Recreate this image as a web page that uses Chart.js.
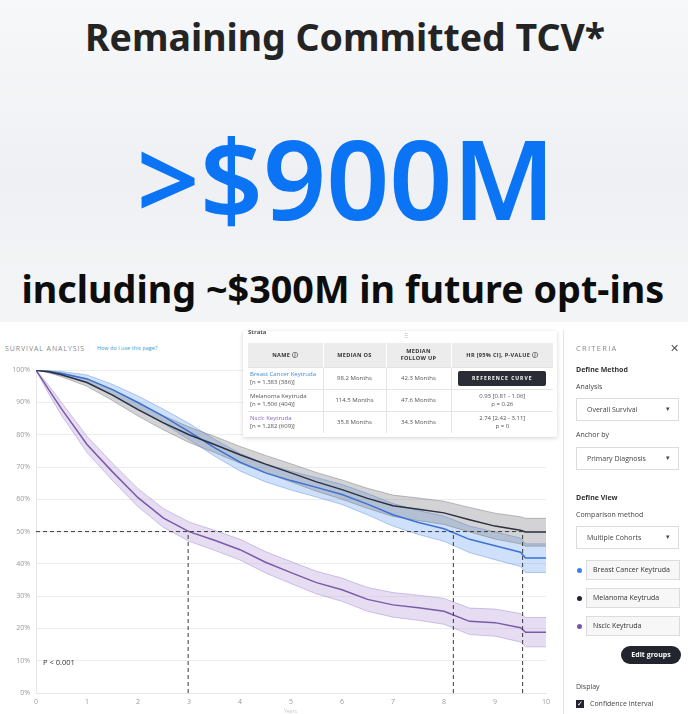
<!DOCTYPE html>
<html><head><meta charset="utf-8">
<script src="https://cdn.jsdelivr.net/npm/chart.js@4.4.1/dist/chart.umd.min.js"></script>
<style>
body{margin:0;width:692px;height:714px;position:relative;background:#fff;overflow:hidden;font-family:"Open Sans",sans-serif;}
#top{position:absolute;left:0;top:0;width:688px;height:322px;background:linear-gradient(180deg,#f7f8fa 0%,#eef0f3 55%,#f4f5f7 100%);}
.hl{position:absolute;white-space:nowrap;line-height:1;font-family:"Noto Sans",sans-serif;}
.abs{position:absolute;white-space:nowrap;}
#chartWrap{position:absolute;left:0;top:360px;width:556px;height:354px;}
#tbl{position:absolute;left:243px;top:331px;width:314px;height:106px;background:#fff;box-shadow:0 1px 4px rgba(0,0,0,0.18);}
#tbl table{position:absolute;left:5px;top:12px;width:305px;border-collapse:collapse;font-size:6px;color:#555;table-layout:fixed;}
#tbl th{background:#ececec;height:24px;padding:0;font-weight:700;font-size:5.6px;letter-spacing:0.3px;color:#333;text-align:center;border-left:1px solid #fff;line-height:1.2;}
#tbl td{height:21px;padding:0;text-align:center;border-top:1px solid #e4e4e4;border-left:1px solid #e4e4e4;line-height:1.25;white-space:nowrap;}
#tbl td:first-child{text-align:left;padding-left:2px;border-left:none;}
.btn{display:inline-block;background:#2a2d36;color:#fff;font-size:5px;font-weight:700;letter-spacing:1px;padding:4px 0;width:88px;text-align:center;border-radius:2px;white-space:nowrap;}
#side{position:absolute;left:563px;top:330px;width:129px;height:384px;border-left:1px solid #e3e3e3;font-size:7px;color:#444;}
.dd{position:absolute;left:12px;width:103px;height:23px;border:1px solid #dcdcdc;background:#fff;font-size:7px;color:#444;box-sizing:border-box;}
.dd span{position:absolute;left:10px;top:6px;}
.dd i{position:absolute;right:8px;top:5px;font-style:normal;font-size:7px;}
.inp{position:absolute;left:22px;width:94px;height:20px;border:1px solid #dcdcdc;background:#f7f7f7;box-sizing:border-box;font-size:7px;color:#333;}
.inp span{position:absolute;left:6px;top:4px;}
.dot{position:absolute;left:13px;width:5px;height:5px;border-radius:50%;}
</style></head>
<body>
<div id="top">
  <div class="hl" id="t1" style="font-weight:700;color:#242424;">Remaining Committed TCV*</div>
  <div class="hl" id="t2" style="font-weight:600;color:#0b74f4;">&gt;$900M</div>
  <div class="hl" id="t3" style="font-weight:700;color:#0d0d0d;">including ~$300M in future opt-ins</div>
</div>

<div class="abs" style="left:5px;top:344px;font-size:7px;letter-spacing:0.9px;color:#8a8a8a;">SURVIVAL ANALYSIS</div>
<div class="abs" style="left:97px;top:344px;font-size:5.5px;color:#3aa0c8;">How do I use this page?</div>

<div id="chartWrap"><canvas id="c" width="556" height="354"></canvas></div>
<div class="abs" style="left:43px;top:657px;font-size:7.5px;color:#333;">P &lt; 0.001</div>
<div class="abs" style="left:284px;top:708px;font-size:5px;color:#c4c4c4;">Years</div>

<div id="tbl">
  <div class="abs" style="left:5px;top:-3px;font-size:6px;font-weight:700;color:#555;">Strata</div>
  <div class="abs" style="left:161px;top:1px;font-size:6px;color:#aaa;">⠿</div>
  <table>
    <colgroup><col style="width:75px"><col style="width:63px"><col style="width:65px"><col style="width:102px"></colgroup>
    <tr><th style="border-left:none">NAME ⓘ</th><th>MEDIAN OS</th><th>MEDIAN<br>FOLLOW UP</th><th>HR [95% CI], P-VALUE ⓘ</th></tr>
    <tr><td><span style="color:#3f8ad6">Breast Cancer Keytruda</span><br>[n = 1,383 (386)]</td><td>98.2 Months</td><td>42.3 Months</td><td><span class="btn">REFERENCE CURVE</span></td></tr>
    <tr><td>Melanoma Keytruda<br>[n = 1,506 (404)]</td><td>114.5 Months</td><td>47.6 Months</td><td>0.93 [0.81 - 1.06]<br>p = 0.26</td></tr>
    <tr><td><span style="color:#8a64b8">Nsclc Keytruda</span><br>[n = 1,282 (609)]</td><td>35.8 Months</td><td>34.3 Months</td><td>2.74 [2.42 - 3.11]<br>p = 0</td></tr>
  </table>
</div>

<div id="side">
  <div class="abs" style="left:12px;top:13px;font-size:7.5px;letter-spacing:1.3px;color:#8a8a8a;">CRITERIA</div>
  <div class="abs" style="left:106px;top:10px;font-size:11px;color:#555;">✕</div>
  <div class="abs" style="left:12px;top:35px;font-weight:700;color:#333;">Define Method</div>
  <div class="abs" style="left:12px;top:52px;">Analysis</div>
  <div class="dd" style="top:68px"><span>Overall Survival</span><i>▾</i></div>
  <div class="abs" style="left:12px;top:100px;">Anchor by</div>
  <div class="dd" style="top:117px"><span>Primary Diagnosis</span><i>▾</i></div>
  <div class="abs" style="left:12px;top:163px;font-weight:700;color:#333;">Define View</div>
  <div class="abs" style="left:12px;top:180px;">Comparison method</div>
  <div class="dd" style="top:196px"><span>Multiple Cohorts</span><i>▾</i></div>
  <div class="dot" style="top:238px;background:#3f7ee8"></div>
  <div class="inp" style="top:230px"><span>Breast Cancer Keytruda</span></div>
  <div class="dot" style="top:266px;background:#22242e"></div>
  <div class="inp" style="top:258px"><span>Melanoma Keytruda</span></div>
  <div class="dot" style="top:294px;background:#7a56a8"></div>
  <div class="inp" style="top:286px"><span>Nsclc Keytruda</span></div>
  <div class="abs" style="left:57px;top:316px;width:60px;height:18px;border-radius:9px;background:#22242e;color:#fff;font-size:7px;font-weight:700;text-align:center;line-height:18px;">Edit groups</div>
  <div class="abs" style="left:12px;top:352px;">Display</div>
  <div class="abs" style="left:12px;top:370px;width:8px;height:8px;background:#22242e;color:#fff;font-size:7px;line-height:8px;text-align:center;">✓</div>
  <div class="abs" style="left:26px;top:369px;">Confidence interval</div>
</div>

<script>
// ---- data ----
const years = [0, 0.25, 0.5, 1, 1.5, 2, 2.5, 3, 3.5, 4, 4.5, 5, 5.5, 6, 6.5, 7, 7.5, 8, 8.5, 9, 9.5, 9.6, 10];

const breastOS    = [100, 99.6, 99, 97.3, 94, 90, 85.7, 81, 76, 71.5, 68.2, 65.8, 63.7, 61.5, 58.5, 55.2, 52.8, 50.9, 47.6, 45.6, 43.6, 41.8, 41.8];
const breastLower = [100, 99.3, 98.4, 96.1, 92.4, 88, 83.5, 78.5, 73.4, 68.8, 65.4, 62.9, 60.7, 58.4, 55.2, 51.7, 49.1, 47, 43.5, 41.3, 39.2, 37.3, 37.3];
const breastUpper = [100, 99.9, 99.6, 98.5, 95.6, 92, 87.9, 83.5, 78.6, 74.2, 71, 68.7, 66.7, 64.6, 61.8, 58.7, 56.5, 54.8, 51.7, 49.9, 48, 46.2, 46.2];

const melanomaOS    = [100, 99.5, 98.6, 96.2, 92.3, 87.8, 83.7, 80, 77, 73.8, 70.9, 68.2, 65.4, 63, 60.3, 58, 56.9, 55.8, 53.7, 51.7, 50.4, 49.9, 49.9];
const melanomaLower = [100, 99.2, 98, 95, 90.6, 85.8, 81.5, 77.6, 74.5, 71.2, 68.2, 65.4, 62.5, 60, 57.2, 54.7, 53.4, 52.2, 49.9, 47.7, 46.2, 45.5, 45.5];
const melanomaUpper = [100, 99.8, 99.2, 97.4, 94, 89.8, 85.9, 82.4, 79.5, 76.4, 73.6, 71, 68.3, 66, 63.4, 61.3, 60.4, 59.4, 57.5, 55.7, 54.6, 54.1, 54.1];

const nsclcOS    = [100, 94, 88, 77, 68.5, 60.5, 54.2, 50, 47.3, 44.4, 40.5, 37.3, 34.2, 32, 29, 27.3, 26.4, 25.3, 22.2, 21.8, 20.2, 18.8, 18.8];
const nsclcLower = [100, 92.7, 86, 74.5, 65.8, 57.7, 51.3, 47, 44.2, 41.2, 37.2, 33.9, 30.7, 28.4, 25.3, 23.5, 22.5, 21.3, 18.1, 17.6, 15.8, 14.3, 14.3];
const nsclcUpper = [100, 95.3, 90, 79.5, 71.2, 63.3, 57.1, 53, 50.4, 47.6, 43.8, 40.7, 37.7, 35.6, 32.7, 31.1, 30.3, 29.3, 26.3, 26, 24.6, 23.4, 23.4];

// median overall survival in months (Breast, Melanoma, Nsclc)
const medianMonths = [98.2, 114.5, 35.8];
const medianLevel = 50;
const yTicks = [0,10,20,30,40,50,60,70,80,90,100];

// ---- headline text fitting ----
function fit(id, targetW, centerX, baseline){
  const el = document.getElementById(id);
  let s = 40; el.style.fontSize = s + 'px';
  s = s * targetW / el.offsetWidth; el.style.fontSize = s + 'px';
  el.style.left = (centerX - el.offsetWidth/2) + 'px';
  el.style.top = (baseline - 0.888*s) + 'px';
}
fit('t1', 520, 345, 51);
fit('t2', 420, 346, 220);
fit('t3', 643, 343, 304);

// ---- chart ----
const pts = ys => years.map((x,i)=>({x:x, y:ys[i]}));
const med = medianMonths.map(m => m/12);
const maxMed = Math.max(...med);

function band(lower, upper, fillCol, lineCol){
  return [
    {data:pts(lower), borderColor:lineCol, borderWidth:0.8, fill:false, order:5},
    {data:pts(upper), borderColor:lineCol, borderWidth:0.8, backgroundColor:fillCol, fill:'-1', order:5}
  ];
}
const dashStyle = {borderColor:'#3a3a3a', borderWidth:1, borderDash:[4,3], fill:false, order:0};

const datasets = [
  ...band(melanomaLower, melanomaUpper, 'rgba(120,122,128,0.33)', 'rgba(110,112,118,0.55)'),
  ...band(breastLower, breastUpper, 'rgba(110,165,240,0.33)', 'rgba(90,145,230,0.6)'),
  ...band(nsclcLower, nsclcUpper, 'rgba(190,165,220,0.38)', 'rgba(165,135,205,0.6)'),
  {data:pts(melanomaOS), borderColor:'#2c3040', borderWidth:1.5, fill:false, order:1},
  {data:pts(breastOS), borderColor:'#3b72d8', borderWidth:1.5, fill:false, order:1},
  {data:pts(nsclcOS), borderColor:'#7a5aa8', borderWidth:1.5, fill:false, order:1},
  {data:[{x:0,y:medianLevel},{x:maxMed,y:medianLevel}], ...dashStyle},
  ...med.map(m => ({data:[{x:m,y:0},{x:m,y:medianLevel}], ...dashStyle}))
];

new Chart(document.getElementById('c'), {
  type:'line',
  data:{datasets},
  options:{
    responsive:false, animation:false,
    layout:{padding:{top:4,right:10,left:0,bottom:0}},
    elements:{point:{radius:0}, line:{tension:0}},
    plugins:{legend:{display:false}, tooltip:{enabled:false}},
    scales:{
      x:{type:'linear', min:0, max:10,
         ticks:{stepSize:1, font:{size:7, family:'Open Sans'}, color:'#9a9a9a', padding:5},
         grid:{display:false, tickLength:0}, border:{color:'#e6e6e6'},
         afterFit:s=>{s.height=21;}},
      y:{min:0, max:100,
         afterBuildTicks:s=>{s.ticks = yTicks.map(v=>({value:v}));},
         ticks:{callback:v=>v+'%', font:{size:7, family:'Open Sans'}, color:'#9a9a9a', padding:6},
         grid:{color:'#ededed', drawTicks:false}, border:{color:'#e6e6e6'},
         afterFit:s=>{s.width=36;}}
    }
  }
});
</script>
</body></html>
